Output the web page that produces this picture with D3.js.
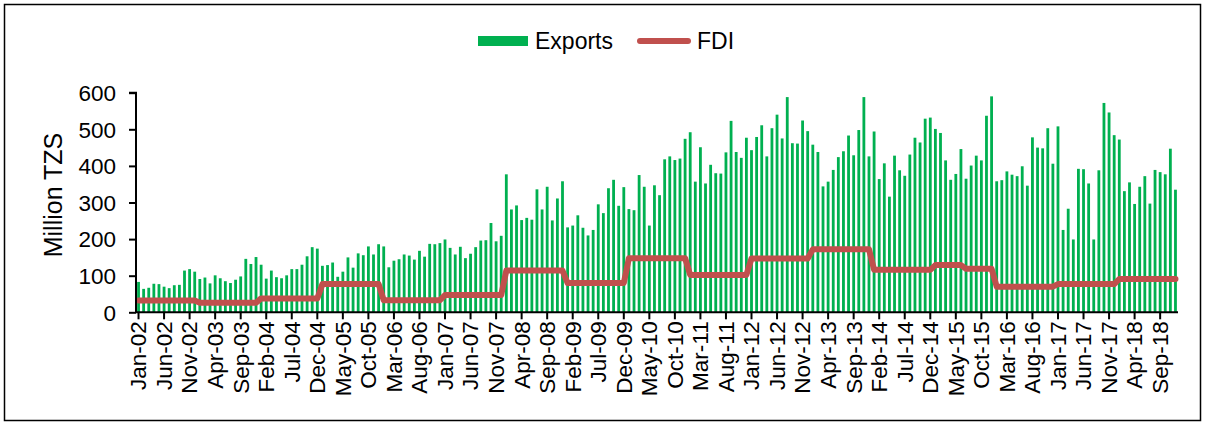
<!DOCTYPE html>
<html>
<head>
<meta charset="utf-8">
<script src="https://cdn.jsdelivr.net/npm/d3@7"></script>
<style>
  body { margin: 0; background: #fff; }
  svg { display: block; font-family: Arial, "Liberation Sans", sans-serif; }
</style>
</head>
<body>
<svg id="chart" width="1205" height="422"></svg>
<script>
// monthly exports, Jan-02 .. Dec-18 (million TZS)
const exports = [
  83, 64, 67, 78, 77, 70, 66, 74, 75, 114, 118, 111,       // 2002
  91, 95, 79, 101, 93, 85, 80, 89, 98, 146, 132, 151,      // 2003
  130, 92, 114, 96, 93, 101, 118, 118, 130, 153, 178, 174, // 2004
  127, 129, 136, 97, 111, 150, 122, 161, 156, 180, 158, 186, // 2005
  180, 123, 141, 145, 158, 155, 144, 168, 152, 187, 186, 189, // 2006
  199, 176, 158, 179, 148, 160, 178, 196, 197, 244, 194, 209, // 2007
  377, 281, 292, 252, 258, 253, 336, 281, 343, 251, 311, 358, // 2008
  232, 237, 265, 231, 210, 225, 295, 271, 339, 362, 291, 342, // 2009
  282, 279, 375, 343, 237, 347, 320, 418, 426, 416, 420, 474, // 2010
  492, 357, 451, 352, 403, 380, 379, 437, 523, 438, 422, 477, // 2011
  443, 479, 511, 426, 503, 540, 475, 588, 462, 461, 524, 495, // 2012
  458, 438, 344, 357, 389, 424, 440, 483, 429, 498, 588, 426, // 2013
  494, 364, 407, 316, 428, 388, 373, 431, 477, 464, 529, 532, // 2014
  501, 490, 415, 362, 378, 446, 365, 401, 428, 415, 537, 590, // 2015
  358, 361, 385, 376, 372, 399, 346, 478, 450, 448, 503, 406, // 2016
  508, 225, 283, 199, 392, 391, 352, 199, 388, 572, 546, 484, // 2017
  472, 331, 355, 296, 343, 372, 297, 389, 383, 377, 447, 335  // 2018
];

// FDI levels, each holds from its start month until the next one
const fdiStart = ["Jan-02", "Jan-03", "Jan-04", "Jan-05", "Jan-06", "Jan-07", "Jan-08", "Jan-09",
                  "Jan-10", "Jan-11", "Jan-12", "Jan-13", "Jan-14", "Jan-15", "Jul-15", "Jan-16",
                  "Jan-17", "Jan-18"];
const fdiLevel = [32, 26, 38, 77, 33, 47, 114, 80, 148, 102, 147, 172, 116, 129, 119, 70, 77, 91];

const yTicks = [0, 100, 200, 300, 400, 500, 600];
const tickEvery = 5;

const fmt = d3.timeFormat("%b-%y");
const months = d3.timeMonth.range(new Date(2002, 0, 1), new Date(2019, 0, 1)).map(fmt);

// expand the FDI levels to one value per month
const fdi = [];
let level = null;
months.forEach((m, i) => {
  const k = fdiStart.indexOf(m);
  if (k >= 0) level = fdiLevel[k];
  fdi.push(level);
});

const svg = d3.select("#chart");
const margin = {left: 136, right: 1178, top: 92.7, bottom: 312.3};

// outer frame
svg.append("rect")
    .attr("x", 4.5).attr("y", 4.5)
    .attr("width", 1196).attr("height", 416)
    .attr("fill", "none")
    .attr("stroke", "#000")
    .attr("stroke-width", 1.5);

const x = d3.scaleBand()
    .domain(d3.range(months.length))
    .range([margin.left, margin.right])
    .paddingInner(0.45)
    .paddingOuter(0.22);

const y = d3.scaleLinear()
    .domain([0, 600])
    .range([margin.bottom, margin.top]);

// bars
svg.append("g")
    .selectAll("rect")
    .data(exports)
    .join("rect")
    .attr("x", (d, i) => x(i))
    .attr("width", x.bandwidth())
    .attr("y", d => y(d))
    .attr("height", d => y(0) - y(d))
    .attr("fill", "#00B050");

// FDI line
const line = d3.line()
    .x((d, i) => x(i) + x.bandwidth() / 2)
    .y(d => y(d));

svg.append("path")
    .datum(fdi)
    .attr("d", line)
    .attr("fill", "none")
    .attr("stroke", "#C0504D")
    .attr("stroke-width", 6)
    .attr("stroke-linejoin", "round")
    .attr("stroke-linecap", "round");

// y axis
const yAxis = svg.append("g")
    .attr("transform", `translate(${margin.left},0)`)
    .call(d3.axisLeft(y).tickValues(yTicks).tickSize(7).tickPadding(13));
yAxis.select(".domain").attr("stroke-width", 2).attr("d", `M-7,${y(600)}H0V${y(0)}`);
yAxis.selectAll(".tick line").attr("stroke-width", 2);
yAxis.selectAll("text").attr("font-size", 22.5).attr("fill", "#000").attr("dy", "0.35em");

// x axis
const tickIdx = d3.range(0, months.length, tickEvery);
const xAxis = svg.append("g")
    .attr("transform", `translate(0,${margin.bottom})`)
    .call(d3.axisBottom(x).tickValues(tickIdx).tickFormat(i => months[i]).tickSize(7).tickSizeOuter(0));
xAxis.select(".domain").attr("stroke-width", 2).attr("d", `M${margin.left},0H${margin.right}`);
xAxis.selectAll(".tick line").attr("stroke-width", 2);
xAxis.selectAll("text")
    .attr("font-size", 22.5)
    .attr("fill", "#000")
    .attr("transform", "rotate(-90)")
    .attr("text-anchor", "end")
    .attr("x", -9)
    .attr("y", 0)
    .attr("dy", "0.35em");

// y axis title
svg.append("text")
    .attr("transform", "translate(62,195) rotate(-90)")
    .attr("text-anchor", "middle")
    .attr("font-size", 25)
    .text("Million TZS");

// legend
const legend = svg.append("g").attr("font-size", 23);
legend.append("rect")
    .attr("x", 478).attr("y", 36).attr("width", 50).attr("height", 10)
    .attr("fill", "#00B050");
legend.append("text").attr("x", 535).attr("y", 49).text("Exports");
legend.append("line")
    .attr("x1", 640).attr("x2", 688).attr("y1", 41).attr("y2", 41)
    .attr("stroke", "#C0504D").attr("stroke-width", 6).attr("stroke-linecap", "round");
legend.append("text").attr("x", 697).attr("y", 49).text("FDI");
</script>
</body>
</html>
